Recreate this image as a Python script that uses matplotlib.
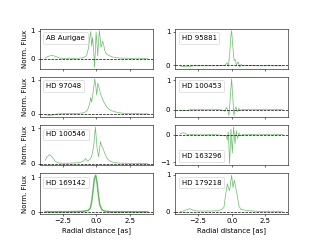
import numpy as np
import matplotlib
matplotlib.use('Agg')
import matplotlib.pyplot as plt

# radial profiles, x in arcsec
names = ['AB Aurigae', 'HD 95881', 'HD 97048', 'HD 100453',
         'HD 100546', 'HD 163296', 'HD 169142', 'HD 179218']
xticks = [-2.5, 0.0, 2.5]

ab_x = [-3.8, -3.6, -3.3, -3.0, -2.7, -2.4, -2.0, -1.5, -1.0, -0.8, -0.7, -0.6, -0.5, -0.42,
        -0.35, -0.28, -0.2, -0.14, -0.08, -0.02, 0.05, 0.1, 0.16, 0.22, 0.28, 0.34, 0.4, 0.47,
        0.54, 0.62, 0.7, 0.8, 1.0, 1.2, 1.5, 1.8, 2.2, 2.6, 3.0, 3.4, 3.8]
ab_y = [0.02, 0.08, 0.12, 0.08, 0.02, 0.01, 0.02, 0.01, 0.03, 0.08, 0.15, 0.35, 0.7, 0.97,
        0.45, 0.75, 0.3, -0.3, 0.2, 0.95, 0.5, 0.1, 0.6, 1.0, 0.75, 0.4, 0.5, 0.62,
        0.5, 0.3, 0.2, 0.15, 0.1, 0.06, 0.04, 0.02, 0.02, 0.01, 0.02, 0.01, 0.01]

hd97048_x = [-3.8, -3.5, -3.2, -2.9, -2.5, -2.0, -1.5, -1.0, -0.8, -0.65, -0.5, -0.42, -0.35,
             -0.25, -0.12, -0.05, 0.03, 0.1, 0.17, 0.24, 0.3, 0.4, 0.5, 0.62, 0.75, 0.9, 1.1,
             1.4, 1.7, 2.0, 2.5, 3.0, 3.5, 3.8]
hd97048_y = [-0.02, -0.04, -0.03, 0.0, 0.01, 0.02, 0.01, 0.03, 0.06, 0.12, 0.3, 0.48, 0.35,
             0.6, 1.03, 0.85, 0.55, 0.9, 0.82, 0.7, 0.6, 0.5, 0.4, 0.3, 0.22, 0.15, 0.1,
             0.06, 0.04, 0.02, 0.01, 0.01, 0.0, 0.01]

hd100546_x = [-3.8, -3.65, -3.45, -3.25, -3.05, -2.85, -2.5, -2.0, -1.5, -1.2, -0.95, -0.8,
              -0.65, -0.5, -0.35, -0.2, -0.07, 0.05, 0.17, 0.3, 0.4, 0.5, 0.62, 0.8, 1.0,
              1.2, 1.5, 1.8, 2.2, 2.7, 3.2, 3.8]
hd100546_y = [0.1, 0.2, 0.26, 0.18, 0.07, 0.03, 0.02, 0.02, 0.03, 0.04, 0.08, 0.15,
              0.08, 0.12, 0.2, 0.5, 1.03, 0.45, 0.2, 0.62, 0.5, 0.42, 0.3, 0.15, 0.08,
              0.05, 0.03, 0.02, 0.02, 0.01, 0.01, 0.01]

hd169142_x = [-3.8, -3.0, -2.0, -1.0, -0.6, -0.45, -0.35, -0.25, -0.15, -0.05, 0.05, 0.15,
              0.25, 0.4, 0.6, 1.0, 2.0, 3.0, 3.8]
hd169142_y = [0.02, 0.02, 0.02, 0.03, 0.06, 0.12, 0.3, 0.6, 0.95, 1.05, 0.85, 0.5,
              0.22, 0.08, 0.04, 0.02, 0.02, 0.02, 0.02]

hd95881_x = [-3.8, -3.5, -3.1, -2.8, -2.0, -1.0, -0.5, -0.35, -0.25, -0.15, -0.05, 0.0, 0.08,
             0.18, 0.27, 0.35, 0.45, 0.52, 0.6, 0.7, 0.85, 1.2, 2.0, 3.0, 3.8]
hd95881_y = [-0.02, -0.04, -0.03, -0.01, -0.01, -0.01, 0.0, 0.08, -0.02, 0.3, 0.9, 1.03, 0.6,
             0.15, 0.18, 0.0, 0.1, 0.08, -0.05, 0.03, -0.01, 0.0, -0.01, -0.01, -0.01]

hd100453_x = [-3.8, -3.6, -3.3, -3.0, -2.5, -2.0, -1.5, -1.0, -0.7, -0.5, -0.37, -0.28, -0.2,
              -0.1, 0.0, 0.1, 0.17, 0.25, 0.32, 0.42, 0.54, 0.65, 0.8, 1.0, 1.5, 2.0, 2.5,
              3.0, 3.5, 3.8]
hd100453_y = [-0.02, -0.04, -0.03, 0.0, 0.01, -0.01, 0.01, 0.0, -0.02, -0.06, 0.08, -0.05, -0.2,
              0.4, 1.05, 0.3, -0.2, 0.02, 0.09, -0.08, 0.04, -0.03, 0.01, 0.0, 0.01, 0.0, 0.01,
              0.0, 0.0, 0.0]

hd163296_x = [-3.8, -3.65, -3.5, -3.3, -3.0, -2.5, -2.0, -1.5, -1.0, -0.7, -0.5, -0.4, -0.32,
              -0.25, -0.15, -0.05, 0.05, 0.15, 0.25, 0.35, 0.44, 0.54, 0.67, 0.84, 1.0, 1.5,
              2.0, 2.5, 3.0, 3.5, 3.8]
hd163296_y = [0.02, 0.06, 0.05, 0.0, 0.0, -0.01, -0.01, 0.0, -0.01, -0.03, -0.05, -0.02, -0.2,
              0.09, -1.05, 0.2, -0.67, 0.27, -0.33, 0.14, -0.14, 0.06, -0.05, 0.01, -0.01, 0.0,
              -0.01, 0.0, -0.01, 0.0, 0.0]

hd179218_x = [-3.8, -3.5, -3.25, -3.1, -2.9, -2.6, -2.0, -1.5, -1.0, -0.7, -0.57, -0.44, -0.32,
              -0.22, -0.15, -0.07, 0.0, 0.1, 0.2, 0.3, 0.42, 0.54, 0.67, 0.9, 1.2, 1.6, 2.0,
              2.5, 3.0, 3.5, 3.8]
hd179218_y = [0.0, 0.03, 0.07, 0.08, 0.05, 0.02, 0.02, 0.02, 0.03, 0.07, 0.12, 0.48, 0.75,
              0.62, 0.57, 0.8, 0.98, 0.65, 0.85, 0.65, 0.43, 0.16, 0.07, 0.05, 0.03, 0.02, 0.01,
              0.01, 0.0, 0.01, 0.0]

profiles = [(ab_x, ab_y), (hd95881_x, hd95881_y), (hd97048_x, hd97048_y),
            (hd100453_x, hd100453_y), (hd100546_x, hd100546_y), (hd163296_x, hd163296_y),
            (hd169142_x, hd169142_y), (hd179218_x, hd179218_y)]

fig, axes = plt.subplots(4, 2, sharex=True, figsize=(6.4, 4.8), dpi=50)

for i, ax in enumerate(axes.flat):
    x, y = profiles[i]
    name = names[i]
    if name == 'HD 169142':
        # stack of noisy profiles -> broad band
        ax.plot(x, y, color='tab:green', alpha=0.5, lw=2.5)
    ax.plot(x, y, color='tab:green', alpha=0.7, lw=1, label=name)
    ax.axhline(0, color='k', ls='--', lw=1)
    loc = 'lower left' if name == 'HD 163296' else 'upper left'
    ax.legend(loc=loc, handlelength=0, handletextpad=0)
    if name == 'HD 163296':
        ax.set_yticks([-1, 0])
    else:
        ax.set_yticks([0, 1])
    if i % 2 == 0:
        ax.set_ylabel('Norm. Flux')
    ax.set_xticks(xticks)

for ax in axes[-1]:
    ax.set_xlabel('Radial distance [as]')

plt.savefig('out.png', dpi=50)
